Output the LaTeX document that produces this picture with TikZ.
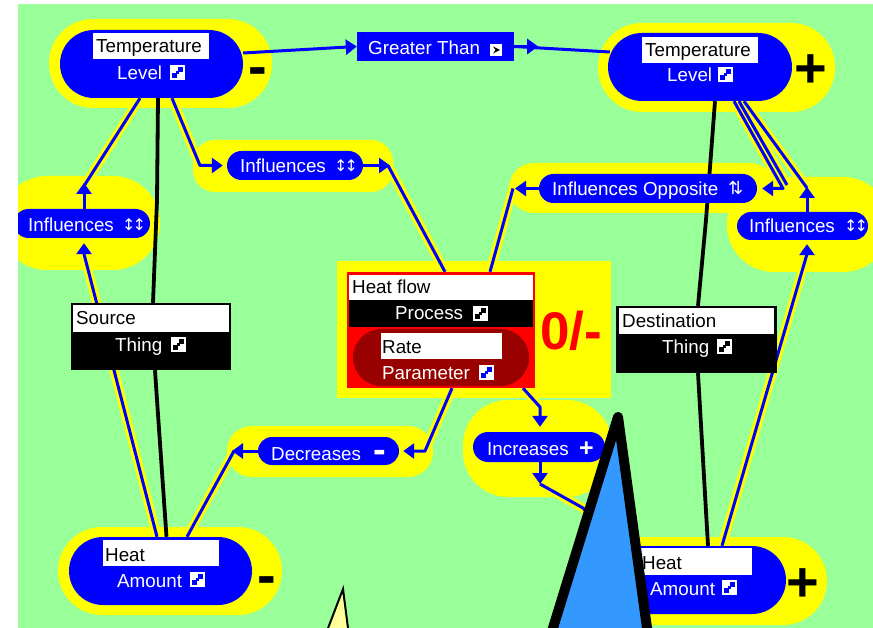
\documentclass[tikz,border=0pt]{standalone}
\usepackage{fontspec}
\setmainfont{Liberation Sans}
\newfontfamily\djv{DejaVu Sans}
\usetikzlibrary{arrows.meta,calc}
\pgfdeclarelayer{halo}
\pgfdeclarelayer{wire}
\pgfdeclarelayer{front}
\pgfsetlayers{halo,wire,main,front}
\definecolor{bg}{HTML}{99FF99}
\definecolor{hy}{HTML}{FFFF00}
\definecolor{nb}{HTML}{0000FF}
\definecolor{dr}{HTML}{990000}
\definecolor{tb}{HTML}{3399FF}
\definecolor{ty}{HTML}{FFFF99}
\newcommand\fnt{\fontsize{18.8}{20}\selectfont}
\newcommand\hw[2][]{%
 \begin{pgfonlayer}{halo}\draw[hy,line width=9pt,line join=round] #2;\end{pgfonlayer}%
 \begin{pgfonlayer}{wire}\draw[conn,#1] #2;\end{pgfonlayer}}
\newcommand\wire[2][]{\begin{pgfonlayer}{wire}\draw[conn,#1] #2;\end{pgfonlayer}}
\tikzset{
 pics/ico/.style={code={
  \fill[white] (0,0) rectangle (15,-15);
  \fill[#1] (8,-8) rectangle (13,-13);
  \fill[#1] (2,-2) rectangle (7,-7);
  \fill[#1] (6,-6) rectangle (9,-9);
 }},
}
\begin{document}
\begin{tikzpicture}[x=1pt,y=-1pt,
 >={Triangle[length=11pt,width=15pt]},
 t/.style={inner sep=0pt,anchor=base west,font=\fnt},
 wt/.style={t,text=white},
 ic/.style={inner sep=0pt,anchor=base west,text=white,font=\djv\fontsize{16}{16}\selectfont},
 pill/.style={fill=nb,inner sep=0pt,rounded corners=#1},
 lab/.style={fill=white,inner sep=0pt},
 sign/.style={inner sep=0pt,anchor=base,font=\fontsize{56}{56}\selectfont\bfseries},
 conn/.style={draw=nb,line width=3pt,line join=round},
 kl/.style={draw=black,line width=3.8pt,line join=round}]
\useasboundingbox (0,0) rectangle (873,628);

% backgrounds and node halos
\begin{pgfonlayer}{halo}
\fill[bg] (18,4) rectangle (873,628);
\fill[hy,rounded corners=44] (49,19) rectangle (272,108);
\fill[hy,rounded corners=44] (598,23) rectangle (835,112);
\fill[hy,rounded corners=47] (0,176) rectangle (160,270);
\fill[hy,rounded corners=22] (193,140) rectangle (393,192);
\fill[hy,rounded corners=25] (509,163) rectangle (775,213);
\fill[hy,rounded corners=47] (727,177) rectangle (890,272);
\fill[hy] (337,261) rectangle (611,398);
\fill[hy,rounded corners=25] (227,426) rectangle (433,477);
\fill[hy,rounded corners=45] (463,400) rectangle (612,497);
\fill[hy,rounded corners=44] (58,527) rectangle (282,615);
\fill[hy,rounded corners=44] (592,537) rectangle (827,625);
\end{pgfonlayer}

% ---------- nodes ----------
% Temperature Level (left)
\node[pill=34,minimum width=183,minimum height=68] (tl) at (151.5,64) {};
\node[lab,minimum width=116,minimum height=26] (tllab) at (151,46) {};
\node[t] (tlname) at (96,53) {Temperature};
\node[wt] (tlkind) at (117,80) {Level};
\pic at (170,80) {ico=nb};
\node[sign] (tlsign) at (257.5,86) {-};

% Temperature Level (right)
\node[pill=34,minimum width=184,minimum height=68] (tr) at (700,67) {};
\node[lab,minimum width=116,minimum height=26] (trlab) at (700,50) {};
\node[t] (trname) at (645,57) {Temperature};
\node[wt] (trkind) at (667,82) {Level};
\pic at (718,82) {ico=nb};
\node[sign] (trsign) at (811,88) {+};

% Greater Than
\node[fill=nb,inner sep=0pt,minimum width=157,minimum height=29] (gt) at (435.5,46.5) {};
\node[wt] (gttext) at (368,55) {Greater Than};
\fill[white] (490,44) rectangle (502,56);
\fill[black] (493,46.5) -- (500,50) -- (493,53.5) -- (495.5,50) -- cycle;

% Influences (middle)
\node[pill=14.5,minimum width=136,minimum height=29] (infm) at (295,165.5) {};
\node[wt] (infmtext) at (240,173) {Influences};
\node[ic] (infmico) at (334,172) {↕\kern-3pt↕};

% Influences (left)
\node[pill=14.5,minimum width=136,minimum height=29] (infl) at (82,223.5) {};
\node[wt] (infltext) at (28,232) {Influences};
\node[ic] (inflico) at (122,231) {↕\kern-3pt↕};

% Influences (right)
\node[pill=14,minimum width=131,minimum height=28] (infr) at (802.5,226) {};
\node[wt] (infrtext) at (749,233) {Influences};
\node[ic] (infrico) at (844,232) {↕\kern-3pt↕};

% Influences Opposite
\node[pill=14.5,minimum width=218,minimum height=29] (infopp) at (648,188.5) {};
\node[wt] (infopptext) at (552,196) {Influences Opposite};
\node[ic,font=\djv\fontsize{18}{18}\selectfont] (infoppico) at (728,195) {⇅};

% Heat flow process
\node[fill=red,inner sep=0pt,minimum width=188,minimum height=116] (hf) at (441,330) {};
\node[lab,minimum width=184,minimum height=25] (hflab) at (441,287.5) {};
\node[fill=black,inner sep=0pt,minimum width=184,minimum height=27] (hfbar) at (441,313.5) {};
\node[pill=28.5,fill=dr,minimum width=176,minimum height=57] (rate) at (441,357.5) {};
\node[lab,minimum width=121,minimum height=26] (ratelab) at (441.5,346) {};
\node[t] (hfname) at (352,294) {Heat flow};
\node[wt] (hfkind) at (395,320) {Process};
\pic at (473,321) {ico=black};
\node[t] (ratename) at (382,353) {Rate};
\node[wt] (ratekind) at (382,379) {Parameter};
\pic at (479,380) {ico=nb};
\node[inner sep=0pt,anchor=base west,text=red,font=\fontsize{53}{53}\selectfont\bfseries] (zm) at (540,350) {0/-};

% Source thing
\node[fill=black,inner sep=0pt,minimum width=160,minimum height=67] (src) at (151,336.5) {};
\node[lab,minimum width=156,minimum height=27] (srclab) at (151,318.5) {};
\node[t] (srcname) at (76,325) {Source};
\node[wt] (srckind) at (115,352) {Thing};
\pic at (171,352) {ico=black};

% Destination thing
\node[fill=black,inner sep=0pt,minimum width=161,minimum height=67] (dest) at (696.5,339.5) {};
\node[lab,minimum width=155,minimum height=26] (destlab) at (696.5,321) {};
\node[t] (destname) at (622,328) {Destination};
\node[wt] (destkind) at (662,354) {Thing};
\pic at (717,354) {ico=black};

% Decreases
\node[pill=14,minimum width=141,minimum height=28] (dec) at (328.5,451) {};
\node[wt] (dectext) at (271,460) {Decreases};
\node[sign,text=white,font=\fontsize{38}{38}\selectfont\bfseries] (decsign) at (380,462) {-};

% Increases
\node[pill=15,minimum width=132,minimum height=30] (inc) at (539,447) {};
\node[wt] (inctext) at (487,455) {Increases};
\node[sign,text=white,font=\fontsize{25}{25}\selectfont\bfseries] (incsign) at (586.5,456.5) {+};

% Heat Amount (left)
\node[pill=34,minimum width=183,minimum height=68] (hal) at (160.5,571) {};
\node[lab,minimum width=116,minimum height=26] (hallab) at (161,553) {};
\node[t] (halname) at (105,561) {Heat};
\node[wt] (halkind) at (117,587) {Amount};
\pic at (190,587) {ico=nb};
\node[sign] (halsign) at (266.5,594) {-};

% Heat Amount (right)
\node[pill=34,minimum width=183,minimum height=68] (har) at (694.5,580) {};
\node[lab,minimum width=114,minimum height=27] (harlab) at (695,561.5) {};
\node[t] (harname) at (642,569) {Heat};
\node[wt] (harkind) at (650,595) {Amount};
\pic at (722,595) {ico=nb};
\node[sign] (harsign) at (803,601) {+};

% ---------- connectors ----------
\wire[->]{($(tl.east)+(0,-11)$) -- (gt.west)}
\wire{(gt.east) -- ($(tr.west)+(2,-15)$)}
\wire[->]{(gt.east) -- ++(24,0)}

\hw{($(tl.south)+(-11.5,0)$) -- (84,186)}
\wire[->]{($(infl.north)+(2,0)$) -- (84,183)}
\hw[->]{($(hal.north)+(-3.5,0)$) -- (84,254) -- ($(infl.south)+(2,5)$)}

\hw[->]{($(tl.south)+(20.5,0)$) -- (200,165.5) -- ($(infm.west)+(-4,0)$)}
\wire[->]{(infm.east) -- (390,165.5)}
\hw{(388,165.5) -- ($(hf.north)+(4,0)$)}

\hw{($(hf.north)+(49,0)$) -- (513,188.5)}
\wire[->]{(infopp.west) -- (515,188.5)}

\hw[->]{($(tr.south)+(34,0)$) -- (783,188.5) -- ($(infopp.east)+(5,0)$)}
\hw{($(tr.south)+(39,0)$) -- (787,185)}
\hw{($(tr.south)+(44,0)$) -- (807,188)}
\wire[->]{($(infr.north)+(4.5,0)$) -- (807,187)}
\hw[->]{($(har.north)+(27.5,0)$) -- (807,254) -- ($(infr.south)+(4.5,4)$)}

\hw[->]{($(hf.south)+(11,0)$) -- (425,451) -- ($(dec.east)+(4,0)$)}
\wire[->]{(dec.west) -- (232,451)}
\hw{(234,451) -- ($(hal.north)+(26.5,0)$)}

\hw[->]{($(hf.south)+(82,0)$) -- (540,407) -- ($(inc.north)+(1,-5)$)}
\wire[->]{($(inc.south)+(1,0)$) -- (540,484)}
\hw{(540,484) -- (583,508) -- ($(har.north west)+(17,5)$)}

\begin{pgfonlayer}{wire}
\draw[kl] ($(tl.south)+(6.5,0)$) -- (157,200) -- ($(src.north)+(2,0)$);
\draw[kl] ($(src.south)+(4,0)$) -- (157,400) -- ($(hal.north)+(6,0)$);
\draw[kl] ($(tr.south)+(15,0)$) -- (706,220) -- ($(dest.north)+(1.5,0)$);
\draw[kl] ($(dest.south)+(1.5,0)$) -- ($(har.north)+(13.5,0)$);
\end{pgfonlayer}

% ---------- front shapes ----------
\begin{pgfonlayer}{front}
\filldraw[fill=tb,draw=black,line width=10pt,line join=round] (618,417) -- (530.8,700) -- (656.9,700) -- cycle;
\filldraw[fill=ty,draw=black,line width=2pt] (343,589) -- (323.5,640) -- (349.5,640) -- cycle;
\fill[white] (0,0) rectangle (18,628);
\fill[white] (0,0) rectangle (873,4);
\end{pgfonlayer}
\end{tikzpicture}
\end{document}
